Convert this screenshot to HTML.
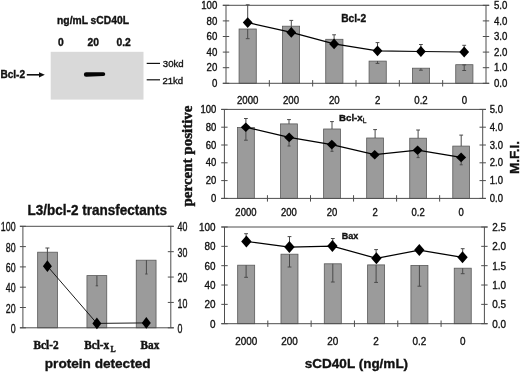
<!DOCTYPE html>
<html><head><meta charset="utf-8"><style>
html,body{margin:0;padding:0;background:#fff;}
body{width:520px;height:372px;overflow:hidden;}
svg{display:block;filter:blur(0.35px);}
text{stroke:#111;stroke-width:0.35px;paint-order:stroke;}
</style></head><body>
<svg width="520" height="372" viewBox="0 0 520 372">
<rect width="520" height="372" fill="#fff"/>
<rect x="239.07" y="29.00" width="17.2" height="54.30" fill="#9b9b9b" stroke="#5a5a5a" stroke-width="0.8"/>
<rect x="282.40" y="26.20" width="17.2" height="57.10" fill="#9b9b9b" stroke="#5a5a5a" stroke-width="0.8"/>
<rect x="325.73" y="39.30" width="17.2" height="44.00" fill="#9b9b9b" stroke="#5a5a5a" stroke-width="0.8"/>
<rect x="369.07" y="61.10" width="17.2" height="22.20" fill="#9b9b9b" stroke="#5a5a5a" stroke-width="0.8"/>
<rect x="412.40" y="68.20" width="17.2" height="15.10" fill="#9b9b9b" stroke="#5a5a5a" stroke-width="0.8"/>
<rect x="455.73" y="64.70" width="17.2" height="18.60" fill="#9b9b9b" stroke="#5a5a5a" stroke-width="0.8"/>
<line x1="222.80" y1="5.30" x2="489.20" y2="5.30" stroke="#4e4e4e" stroke-width="1"/>
<line x1="226.00" y1="5.30" x2="226.00" y2="83.30" stroke="#4e4e4e" stroke-width="1"/>
<line x1="486.00" y1="5.30" x2="486.00" y2="83.30" stroke="#4e4e4e" stroke-width="1"/>
<line x1="222.80" y1="83.30" x2="489.20" y2="83.30" stroke="#4e4e4e" stroke-width="1"/>
<line x1="222.80" y1="5.30" x2="229.20" y2="5.30" stroke="#4e4e4e" stroke-width="1"/>
<line x1="482.80" y1="5.30" x2="489.20" y2="5.30" stroke="#4e4e4e" stroke-width="1"/>
<line x1="222.80" y1="20.90" x2="229.20" y2="20.90" stroke="#4e4e4e" stroke-width="1"/>
<line x1="482.80" y1="20.90" x2="489.20" y2="20.90" stroke="#4e4e4e" stroke-width="1"/>
<line x1="222.80" y1="36.50" x2="229.20" y2="36.50" stroke="#4e4e4e" stroke-width="1"/>
<line x1="482.80" y1="36.50" x2="489.20" y2="36.50" stroke="#4e4e4e" stroke-width="1"/>
<line x1="222.80" y1="52.10" x2="229.20" y2="52.10" stroke="#4e4e4e" stroke-width="1"/>
<line x1="482.80" y1="52.10" x2="489.20" y2="52.10" stroke="#4e4e4e" stroke-width="1"/>
<line x1="222.80" y1="67.70" x2="229.20" y2="67.70" stroke="#4e4e4e" stroke-width="1"/>
<line x1="482.80" y1="67.70" x2="489.20" y2="67.70" stroke="#4e4e4e" stroke-width="1"/>
<line x1="222.80" y1="83.30" x2="229.20" y2="83.30" stroke="#4e4e4e" stroke-width="1"/>
<line x1="482.80" y1="83.30" x2="489.20" y2="83.30" stroke="#4e4e4e" stroke-width="1"/>
<line x1="269.33" y1="80.10" x2="269.33" y2="86.50" stroke="#4e4e4e" stroke-width="1"/>
<line x1="312.67" y1="80.10" x2="312.67" y2="86.50" stroke="#4e4e4e" stroke-width="1"/>
<line x1="356.00" y1="80.10" x2="356.00" y2="86.50" stroke="#4e4e4e" stroke-width="1"/>
<line x1="399.33" y1="80.10" x2="399.33" y2="86.50" stroke="#4e4e4e" stroke-width="1"/>
<line x1="442.67" y1="80.10" x2="442.67" y2="86.50" stroke="#4e4e4e" stroke-width="1"/>
<line x1="247.70" y1="29.00" x2="247.70" y2="38.70" stroke="#4a4a4a" stroke-width="1"/>
<line x1="245.80" y1="38.70" x2="249.60" y2="38.70" stroke="#4a4a4a" stroke-width="1"/>
<line x1="247.70" y1="22.60" x2="247.70" y2="4.80" stroke="#4a4a4a" stroke-width="1"/>
<line x1="245.80" y1="4.80" x2="249.60" y2="4.80" stroke="#4a4a4a" stroke-width="1"/>
<line x1="291.30" y1="32.40" x2="291.30" y2="20.40" stroke="#4a4a4a" stroke-width="1"/>
<line x1="289.40" y1="20.40" x2="293.20" y2="20.40" stroke="#4a4a4a" stroke-width="1"/>
<line x1="334.10" y1="43.90" x2="334.10" y2="34.80" stroke="#4a4a4a" stroke-width="1"/>
<line x1="332.20" y1="34.80" x2="336.00" y2="34.80" stroke="#4a4a4a" stroke-width="1"/>
<line x1="377.50" y1="61.10" x2="377.50" y2="63.40" stroke="#4a4a4a" stroke-width="1"/>
<line x1="375.60" y1="63.40" x2="379.40" y2="63.40" stroke="#4a4a4a" stroke-width="1"/>
<line x1="377.50" y1="50.80" x2="377.50" y2="42.60" stroke="#4a4a4a" stroke-width="1"/>
<line x1="375.60" y1="42.60" x2="379.40" y2="42.60" stroke="#4a4a4a" stroke-width="1"/>
<line x1="420.90" y1="68.20" x2="420.90" y2="70.20" stroke="#4a4a4a" stroke-width="1"/>
<line x1="419.00" y1="70.20" x2="422.80" y2="70.20" stroke="#4a4a4a" stroke-width="1"/>
<line x1="420.90" y1="51.50" x2="420.90" y2="44.50" stroke="#4a4a4a" stroke-width="1"/>
<line x1="419.00" y1="44.50" x2="422.80" y2="44.50" stroke="#4a4a4a" stroke-width="1"/>
<line x1="464.20" y1="64.90" x2="464.20" y2="70.50" stroke="#4a4a4a" stroke-width="1"/>
<line x1="462.30" y1="70.50" x2="466.10" y2="70.50" stroke="#4a4a4a" stroke-width="1"/>
<line x1="462.30" y1="64.90" x2="466.10" y2="64.90" stroke="#4a4a4a" stroke-width="1"/>
<line x1="464.20" y1="52.00" x2="464.20" y2="45.30" stroke="#4a4a4a" stroke-width="1"/>
<line x1="462.30" y1="45.30" x2="466.10" y2="45.30" stroke="#4a4a4a" stroke-width="1"/>
<polyline points="247.70,22.60 291.30,32.40 334.10,43.90 377.50,50.80 420.90,51.50 464.20,52.00" fill="none" stroke="#000" stroke-width="1.25"/>
<polygon points="247.70,17.20 252.60,22.60 247.70,28.00 242.80,22.60" fill="#000"/>
<polygon points="291.30,27.00 296.20,32.40 291.30,37.80 286.40,32.40" fill="#000"/>
<polygon points="334.10,38.50 339.00,43.90 334.10,49.30 329.20,43.90" fill="#000"/>
<polygon points="377.50,45.40 382.40,50.80 377.50,56.20 372.60,50.80" fill="#000"/>
<polygon points="420.90,46.10 425.80,51.50 420.90,56.90 416.00,51.50" fill="#000"/>
<polygon points="464.20,46.60 469.10,52.00 464.20,57.40 459.30,52.00" fill="#000"/>
<text transform="translate(217.30,9.08) scale(0.92,1)" x="0" y="0" font-family='"Liberation Sans", sans-serif' font-size="10.5" font-weight="normal" text-anchor="end" fill="#111" >100</text>
<text transform="translate(217.30,24.68) scale(0.92,1)" x="0" y="0" font-family='"Liberation Sans", sans-serif' font-size="10.5" font-weight="normal" text-anchor="end" fill="#111" >80</text>
<text transform="translate(217.30,40.28) scale(0.92,1)" x="0" y="0" font-family='"Liberation Sans", sans-serif' font-size="10.5" font-weight="normal" text-anchor="end" fill="#111" >60</text>
<text transform="translate(217.30,55.88) scale(0.92,1)" x="0" y="0" font-family='"Liberation Sans", sans-serif' font-size="10.5" font-weight="normal" text-anchor="end" fill="#111" >40</text>
<text transform="translate(217.30,71.48) scale(0.92,1)" x="0" y="0" font-family='"Liberation Sans", sans-serif' font-size="10.5" font-weight="normal" text-anchor="end" fill="#111" >20</text>
<text transform="translate(217.30,87.08) scale(0.92,1)" x="0" y="0" font-family='"Liberation Sans", sans-serif' font-size="10.5" font-weight="normal" text-anchor="end" fill="#111" >0</text>
<text transform="translate(494.00,9.08) scale(0.92,1)" x="0" y="0" font-family='"Liberation Sans", sans-serif' font-size="10.5" font-weight="normal" text-anchor="start" fill="#111" >5.0</text>
<text transform="translate(494.00,24.68) scale(0.92,1)" x="0" y="0" font-family='"Liberation Sans", sans-serif' font-size="10.5" font-weight="normal" text-anchor="start" fill="#111" >4.0</text>
<text transform="translate(494.00,40.28) scale(0.92,1)" x="0" y="0" font-family='"Liberation Sans", sans-serif' font-size="10.5" font-weight="normal" text-anchor="start" fill="#111" >3.0</text>
<text transform="translate(494.00,55.88) scale(0.92,1)" x="0" y="0" font-family='"Liberation Sans", sans-serif' font-size="10.5" font-weight="normal" text-anchor="start" fill="#111" >2.0</text>
<text transform="translate(494.00,71.48) scale(0.92,1)" x="0" y="0" font-family='"Liberation Sans", sans-serif' font-size="10.5" font-weight="normal" text-anchor="start" fill="#111" >1.0</text>
<text transform="translate(494.00,87.08) scale(0.92,1)" x="0" y="0" font-family='"Liberation Sans", sans-serif' font-size="10.5" font-weight="normal" text-anchor="start" fill="#111" >0.0</text>
<text transform="translate(247.67,104.00) scale(0.92,1)" x="0" y="0" font-family='"Liberation Sans", sans-serif' font-size="10.5" font-weight="normal" text-anchor="middle" fill="#111" >2000</text>
<text transform="translate(291.00,104.00) scale(0.92,1)" x="0" y="0" font-family='"Liberation Sans", sans-serif' font-size="10.5" font-weight="normal" text-anchor="middle" fill="#111" >200</text>
<text transform="translate(334.33,104.00) scale(0.92,1)" x="0" y="0" font-family='"Liberation Sans", sans-serif' font-size="10.5" font-weight="normal" text-anchor="middle" fill="#111" >20</text>
<text transform="translate(377.67,104.00) scale(0.92,1)" x="0" y="0" font-family='"Liberation Sans", sans-serif' font-size="10.5" font-weight="normal" text-anchor="middle" fill="#111" >2</text>
<text transform="translate(421.00,104.00) scale(0.92,1)" x="0" y="0" font-family='"Liberation Sans", sans-serif' font-size="10.5" font-weight="normal" text-anchor="middle" fill="#111" >0.2</text>
<text transform="translate(464.33,104.00) scale(0.92,1)" x="0" y="0" font-family='"Liberation Sans", sans-serif' font-size="10.5" font-weight="normal" text-anchor="middle" fill="#111" >0</text>
<text x="341.20" y="22.40" font-family='"Liberation Sans", sans-serif' font-size="10.2" font-weight="bold" text-anchor="start" fill="#111" >Bcl-2</text>
<rect x="237.53" y="127.50" width="16.8" height="70.90" fill="#9b9b9b" stroke="#5a5a5a" stroke-width="0.8"/>
<rect x="280.58" y="123.90" width="16.8" height="74.50" fill="#9b9b9b" stroke="#5a5a5a" stroke-width="0.8"/>
<rect x="323.62" y="129.00" width="16.8" height="69.40" fill="#9b9b9b" stroke="#5a5a5a" stroke-width="0.8"/>
<rect x="366.67" y="138.00" width="16.8" height="60.40" fill="#9b9b9b" stroke="#5a5a5a" stroke-width="0.8"/>
<rect x="409.73" y="138.20" width="16.8" height="60.20" fill="#9b9b9b" stroke="#5a5a5a" stroke-width="0.8"/>
<rect x="452.77" y="146.10" width="16.8" height="52.30" fill="#9b9b9b" stroke="#5a5a5a" stroke-width="0.8"/>
<line x1="221.20" y1="109.40" x2="485.90" y2="109.40" stroke="#4e4e4e" stroke-width="1"/>
<line x1="224.40" y1="109.40" x2="224.40" y2="198.40" stroke="#4e4e4e" stroke-width="1"/>
<line x1="482.70" y1="109.40" x2="482.70" y2="198.40" stroke="#4e4e4e" stroke-width="1"/>
<line x1="221.20" y1="198.40" x2="485.90" y2="198.40" stroke="#4e4e4e" stroke-width="1"/>
<line x1="221.20" y1="109.40" x2="227.60" y2="109.40" stroke="#4e4e4e" stroke-width="1"/>
<line x1="479.50" y1="109.40" x2="485.90" y2="109.40" stroke="#4e4e4e" stroke-width="1"/>
<line x1="221.20" y1="127.20" x2="227.60" y2="127.20" stroke="#4e4e4e" stroke-width="1"/>
<line x1="479.50" y1="127.20" x2="485.90" y2="127.20" stroke="#4e4e4e" stroke-width="1"/>
<line x1="221.20" y1="145.00" x2="227.60" y2="145.00" stroke="#4e4e4e" stroke-width="1"/>
<line x1="479.50" y1="145.00" x2="485.90" y2="145.00" stroke="#4e4e4e" stroke-width="1"/>
<line x1="221.20" y1="162.80" x2="227.60" y2="162.80" stroke="#4e4e4e" stroke-width="1"/>
<line x1="479.50" y1="162.80" x2="485.90" y2="162.80" stroke="#4e4e4e" stroke-width="1"/>
<line x1="221.20" y1="180.60" x2="227.60" y2="180.60" stroke="#4e4e4e" stroke-width="1"/>
<line x1="479.50" y1="180.60" x2="485.90" y2="180.60" stroke="#4e4e4e" stroke-width="1"/>
<line x1="221.20" y1="198.40" x2="227.60" y2="198.40" stroke="#4e4e4e" stroke-width="1"/>
<line x1="479.50" y1="198.40" x2="485.90" y2="198.40" stroke="#4e4e4e" stroke-width="1"/>
<line x1="267.45" y1="195.20" x2="267.45" y2="201.60" stroke="#4e4e4e" stroke-width="1"/>
<line x1="310.50" y1="195.20" x2="310.50" y2="201.60" stroke="#4e4e4e" stroke-width="1"/>
<line x1="353.55" y1="195.20" x2="353.55" y2="201.60" stroke="#4e4e4e" stroke-width="1"/>
<line x1="396.60" y1="195.20" x2="396.60" y2="201.60" stroke="#4e4e4e" stroke-width="1"/>
<line x1="439.65" y1="195.20" x2="439.65" y2="201.60" stroke="#4e4e4e" stroke-width="1"/>
<line x1="245.90" y1="127.50" x2="245.90" y2="140.20" stroke="#4a4a4a" stroke-width="1"/>
<line x1="244.00" y1="140.20" x2="247.80" y2="140.20" stroke="#4a4a4a" stroke-width="1"/>
<line x1="245.90" y1="127.20" x2="245.90" y2="118.50" stroke="#4a4a4a" stroke-width="1"/>
<line x1="244.00" y1="118.50" x2="247.80" y2="118.50" stroke="#4a4a4a" stroke-width="1"/>
<line x1="289.00" y1="123.90" x2="289.00" y2="119.60" stroke="#4a4a4a" stroke-width="1"/>
<line x1="287.10" y1="119.60" x2="290.90" y2="119.60" stroke="#4a4a4a" stroke-width="1"/>
<line x1="289.00" y1="141.50" x2="289.00" y2="146.00" stroke="#4a4a4a" stroke-width="1"/>
<line x1="287.50" y1="146.00" x2="290.50" y2="146.00" stroke="#4a4a4a" stroke-width="1"/>
<line x1="332.00" y1="129.00" x2="332.00" y2="121.60" stroke="#4a4a4a" stroke-width="1"/>
<line x1="330.10" y1="121.60" x2="333.90" y2="121.60" stroke="#4a4a4a" stroke-width="1"/>
<line x1="332.00" y1="148.80" x2="332.00" y2="151.30" stroke="#4a4a4a" stroke-width="1"/>
<line x1="330.50" y1="151.30" x2="333.50" y2="151.30" stroke="#4a4a4a" stroke-width="1"/>
<line x1="375.10" y1="138.00" x2="375.10" y2="129.60" stroke="#4a4a4a" stroke-width="1"/>
<line x1="373.20" y1="129.60" x2="377.00" y2="129.60" stroke="#4a4a4a" stroke-width="1"/>
<line x1="418.10" y1="138.20" x2="418.10" y2="130.00" stroke="#4a4a4a" stroke-width="1"/>
<line x1="416.20" y1="130.00" x2="420.00" y2="130.00" stroke="#4a4a4a" stroke-width="1"/>
<line x1="418.10" y1="154.50" x2="418.10" y2="157.60" stroke="#4a4a4a" stroke-width="1"/>
<line x1="416.60" y1="157.60" x2="419.60" y2="157.60" stroke="#4a4a4a" stroke-width="1"/>
<line x1="461.20" y1="146.10" x2="461.20" y2="135.10" stroke="#4a4a4a" stroke-width="1"/>
<line x1="459.30" y1="135.10" x2="463.10" y2="135.10" stroke="#4a4a4a" stroke-width="1"/>
<line x1="461.20" y1="161.50" x2="461.20" y2="164.80" stroke="#4a4a4a" stroke-width="1"/>
<line x1="459.70" y1="164.80" x2="462.70" y2="164.80" stroke="#4a4a4a" stroke-width="1"/>
<polyline points="245.80,127.20 289.20,137.40 331.80,144.60 374.70,154.70 417.60,150.20 461.10,157.40" fill="none" stroke="#000" stroke-width="1.25"/>
<polygon points="245.80,122.40 250.80,127.20 245.80,132.00 240.80,127.20" fill="#000"/>
<polygon points="289.20,132.60 294.20,137.40 289.20,142.20 284.20,137.40" fill="#000"/>
<polygon points="331.80,139.80 336.80,144.60 331.80,149.40 326.80,144.60" fill="#000"/>
<polygon points="374.70,149.90 379.70,154.70 374.70,159.50 369.70,154.70" fill="#000"/>
<polygon points="417.60,145.40 422.60,150.20 417.60,155.00 412.60,150.20" fill="#000"/>
<polygon points="461.10,152.60 466.10,157.40 461.10,162.20 456.10,157.40" fill="#000"/>
<text transform="translate(216.30,113.00) scale(0.95,1)" x="0" y="0" font-family='"Liberation Sans", sans-serif' font-size="10.0" font-weight="normal" text-anchor="end" fill="#111" >100</text>
<text transform="translate(216.30,130.80) scale(0.95,1)" x="0" y="0" font-family='"Liberation Sans", sans-serif' font-size="10.0" font-weight="normal" text-anchor="end" fill="#111" >80</text>
<text transform="translate(216.30,148.60) scale(0.95,1)" x="0" y="0" font-family='"Liberation Sans", sans-serif' font-size="10.0" font-weight="normal" text-anchor="end" fill="#111" >60</text>
<text transform="translate(216.30,166.40) scale(0.95,1)" x="0" y="0" font-family='"Liberation Sans", sans-serif' font-size="10.0" font-weight="normal" text-anchor="end" fill="#111" >40</text>
<text transform="translate(216.30,184.20) scale(0.95,1)" x="0" y="0" font-family='"Liberation Sans", sans-serif' font-size="10.0" font-weight="normal" text-anchor="end" fill="#111" >20</text>
<text transform="translate(216.30,202.00) scale(0.95,1)" x="0" y="0" font-family='"Liberation Sans", sans-serif' font-size="10.0" font-weight="normal" text-anchor="end" fill="#111" >0</text>
<text transform="translate(489.80,113.00) scale(0.95,1)" x="0" y="0" font-family='"Liberation Sans", sans-serif' font-size="10.0" font-weight="normal" text-anchor="start" fill="#111" >5.0</text>
<text transform="translate(489.80,130.80) scale(0.95,1)" x="0" y="0" font-family='"Liberation Sans", sans-serif' font-size="10.0" font-weight="normal" text-anchor="start" fill="#111" >4.0</text>
<text transform="translate(489.80,148.60) scale(0.95,1)" x="0" y="0" font-family='"Liberation Sans", sans-serif' font-size="10.0" font-weight="normal" text-anchor="start" fill="#111" >3.0</text>
<text transform="translate(489.80,166.40) scale(0.95,1)" x="0" y="0" font-family='"Liberation Sans", sans-serif' font-size="10.0" font-weight="normal" text-anchor="start" fill="#111" >2.0</text>
<text transform="translate(489.80,184.20) scale(0.95,1)" x="0" y="0" font-family='"Liberation Sans", sans-serif' font-size="10.0" font-weight="normal" text-anchor="start" fill="#111" >1.0</text>
<text transform="translate(489.80,202.00) scale(0.95,1)" x="0" y="0" font-family='"Liberation Sans", sans-serif' font-size="10.0" font-weight="normal" text-anchor="start" fill="#111" >0.0</text>
<text transform="translate(245.93,216.20) scale(0.95,1)" x="0" y="0" font-family='"Liberation Sans", sans-serif' font-size="10.0" font-weight="normal" text-anchor="middle" fill="#111" >2000</text>
<text transform="translate(288.98,216.20) scale(0.95,1)" x="0" y="0" font-family='"Liberation Sans", sans-serif' font-size="10.0" font-weight="normal" text-anchor="middle" fill="#111" >200</text>
<text transform="translate(332.02,216.20) scale(0.95,1)" x="0" y="0" font-family='"Liberation Sans", sans-serif' font-size="10.0" font-weight="normal" text-anchor="middle" fill="#111" >20</text>
<text transform="translate(375.07,216.20) scale(0.95,1)" x="0" y="0" font-family='"Liberation Sans", sans-serif' font-size="10.0" font-weight="normal" text-anchor="middle" fill="#111" >2</text>
<text transform="translate(418.12,216.20) scale(0.95,1)" x="0" y="0" font-family='"Liberation Sans", sans-serif' font-size="10.0" font-weight="normal" text-anchor="middle" fill="#111" >0.2</text>
<text transform="translate(461.17,216.20) scale(0.95,1)" x="0" y="0" font-family='"Liberation Sans", sans-serif' font-size="10.0" font-weight="normal" text-anchor="middle" fill="#111" >0</text>
<text x="339.00" y="120.80" font-family='"Liberation Sans", sans-serif' font-size="9.7" font-weight="bold" text-anchor="start" fill="#111" >Bcl-x</text>
<text x="362.70" y="122.60" font-family='"Liberation Sans", sans-serif' font-size="6.6" font-weight="normal" text-anchor="start" fill="#111"  style="stroke-width:0.35px">L</text>
<rect x="237.66" y="265.20" width="17.0" height="58.50" fill="#9b9b9b" stroke="#5a5a5a" stroke-width="0.8"/>
<rect x="280.98" y="254.20" width="17.0" height="69.50" fill="#9b9b9b" stroke="#5a5a5a" stroke-width="0.8"/>
<rect x="324.29" y="263.80" width="17.0" height="59.90" fill="#9b9b9b" stroke="#5a5a5a" stroke-width="0.8"/>
<rect x="367.61" y="264.90" width="17.0" height="58.80" fill="#9b9b9b" stroke="#5a5a5a" stroke-width="0.8"/>
<rect x="410.92" y="265.40" width="17.0" height="58.30" fill="#9b9b9b" stroke="#5a5a5a" stroke-width="0.8"/>
<rect x="454.24" y="268.20" width="17.0" height="55.50" fill="#9b9b9b" stroke="#5a5a5a" stroke-width="0.8"/>
<line x1="221.30" y1="227.00" x2="487.60" y2="227.00" stroke="#4e4e4e" stroke-width="1"/>
<line x1="224.50" y1="227.00" x2="224.50" y2="323.70" stroke="#4e4e4e" stroke-width="1"/>
<line x1="484.40" y1="227.00" x2="484.40" y2="323.70" stroke="#4e4e4e" stroke-width="1"/>
<line x1="221.30" y1="323.70" x2="487.60" y2="323.70" stroke="#4e4e4e" stroke-width="1"/>
<line x1="221.30" y1="227.00" x2="227.70" y2="227.00" stroke="#4e4e4e" stroke-width="1"/>
<line x1="481.20" y1="227.00" x2="487.60" y2="227.00" stroke="#4e4e4e" stroke-width="1"/>
<line x1="221.30" y1="246.34" x2="227.70" y2="246.34" stroke="#4e4e4e" stroke-width="1"/>
<line x1="481.20" y1="246.34" x2="487.60" y2="246.34" stroke="#4e4e4e" stroke-width="1"/>
<line x1="221.30" y1="265.68" x2="227.70" y2="265.68" stroke="#4e4e4e" stroke-width="1"/>
<line x1="481.20" y1="265.68" x2="487.60" y2="265.68" stroke="#4e4e4e" stroke-width="1"/>
<line x1="221.30" y1="285.02" x2="227.70" y2="285.02" stroke="#4e4e4e" stroke-width="1"/>
<line x1="481.20" y1="285.02" x2="487.60" y2="285.02" stroke="#4e4e4e" stroke-width="1"/>
<line x1="221.30" y1="304.36" x2="227.70" y2="304.36" stroke="#4e4e4e" stroke-width="1"/>
<line x1="481.20" y1="304.36" x2="487.60" y2="304.36" stroke="#4e4e4e" stroke-width="1"/>
<line x1="221.30" y1="323.70" x2="227.70" y2="323.70" stroke="#4e4e4e" stroke-width="1"/>
<line x1="481.20" y1="323.70" x2="487.60" y2="323.70" stroke="#4e4e4e" stroke-width="1"/>
<line x1="267.82" y1="320.50" x2="267.82" y2="326.90" stroke="#4e4e4e" stroke-width="1"/>
<line x1="311.13" y1="320.50" x2="311.13" y2="326.90" stroke="#4e4e4e" stroke-width="1"/>
<line x1="354.45" y1="320.50" x2="354.45" y2="326.90" stroke="#4e4e4e" stroke-width="1"/>
<line x1="397.77" y1="320.50" x2="397.77" y2="326.90" stroke="#4e4e4e" stroke-width="1"/>
<line x1="441.08" y1="320.50" x2="441.08" y2="326.90" stroke="#4e4e4e" stroke-width="1"/>
<line x1="246.10" y1="265.20" x2="246.10" y2="277.30" stroke="#4a4a4a" stroke-width="1"/>
<line x1="244.20" y1="277.30" x2="248.00" y2="277.30" stroke="#4a4a4a" stroke-width="1"/>
<line x1="246.10" y1="241.50" x2="246.10" y2="233.70" stroke="#4a4a4a" stroke-width="1"/>
<line x1="244.20" y1="233.70" x2="248.00" y2="233.70" stroke="#4a4a4a" stroke-width="1"/>
<line x1="289.50" y1="254.20" x2="289.50" y2="267.00" stroke="#4a4a4a" stroke-width="1"/>
<line x1="287.60" y1="267.00" x2="291.40" y2="267.00" stroke="#4a4a4a" stroke-width="1"/>
<line x1="289.50" y1="247.00" x2="289.50" y2="236.60" stroke="#4a4a4a" stroke-width="1"/>
<line x1="287.60" y1="236.60" x2="291.40" y2="236.60" stroke="#4a4a4a" stroke-width="1"/>
<line x1="332.80" y1="263.80" x2="332.80" y2="282.00" stroke="#4a4a4a" stroke-width="1"/>
<line x1="330.90" y1="282.00" x2="334.70" y2="282.00" stroke="#4a4a4a" stroke-width="1"/>
<line x1="332.80" y1="246.10" x2="332.80" y2="238.50" stroke="#4a4a4a" stroke-width="1"/>
<line x1="330.90" y1="238.50" x2="334.70" y2="238.50" stroke="#4a4a4a" stroke-width="1"/>
<line x1="376.10" y1="264.90" x2="376.10" y2="282.40" stroke="#4a4a4a" stroke-width="1"/>
<line x1="374.20" y1="282.40" x2="378.00" y2="282.40" stroke="#4a4a4a" stroke-width="1"/>
<line x1="376.10" y1="258.30" x2="376.10" y2="249.60" stroke="#4a4a4a" stroke-width="1"/>
<line x1="374.20" y1="249.60" x2="378.00" y2="249.60" stroke="#4a4a4a" stroke-width="1"/>
<line x1="419.40" y1="265.40" x2="419.40" y2="286.20" stroke="#4a4a4a" stroke-width="1"/>
<line x1="417.50" y1="286.20" x2="421.30" y2="286.20" stroke="#4a4a4a" stroke-width="1"/>
<line x1="462.70" y1="268.20" x2="462.70" y2="273.70" stroke="#4a4a4a" stroke-width="1"/>
<line x1="460.80" y1="273.70" x2="464.60" y2="273.70" stroke="#4a4a4a" stroke-width="1"/>
<line x1="462.70" y1="257.30" x2="462.70" y2="248.70" stroke="#4a4a4a" stroke-width="1"/>
<line x1="460.80" y1="248.70" x2="464.60" y2="248.70" stroke="#4a4a4a" stroke-width="1"/>
<polyline points="246.40,241.50 289.40,247.00 332.40,246.10 376.40,258.30 419.30,250.10 462.50,257.30" fill="none" stroke="#000" stroke-width="1.25"/>
<polygon points="246.40,235.50 251.60,241.50 246.40,247.50 241.20,241.50" fill="#000"/>
<polygon points="289.40,241.00 294.60,247.00 289.40,253.00 284.20,247.00" fill="#000"/>
<polygon points="332.40,240.10 337.60,246.10 332.40,252.10 327.20,246.10" fill="#000"/>
<polygon points="376.40,252.30 381.60,258.30 376.40,264.30 371.20,258.30" fill="#000"/>
<polygon points="419.30,244.10 424.50,250.10 419.30,256.10 414.10,250.10" fill="#000"/>
<polygon points="462.50,251.30 467.70,257.30 462.50,263.30 457.30,257.30" fill="#000"/>
<text transform="translate(215.50,230.89) scale(0.92,1)" x="0" y="0" font-family='"Liberation Sans", sans-serif' font-size="10.8" font-weight="normal" text-anchor="end" fill="#111" >100</text>
<text transform="translate(215.50,250.23) scale(0.92,1)" x="0" y="0" font-family='"Liberation Sans", sans-serif' font-size="10.8" font-weight="normal" text-anchor="end" fill="#111" >80</text>
<text transform="translate(215.50,269.57) scale(0.92,1)" x="0" y="0" font-family='"Liberation Sans", sans-serif' font-size="10.8" font-weight="normal" text-anchor="end" fill="#111" >60</text>
<text transform="translate(215.50,288.91) scale(0.92,1)" x="0" y="0" font-family='"Liberation Sans", sans-serif' font-size="10.8" font-weight="normal" text-anchor="end" fill="#111" >40</text>
<text transform="translate(215.50,308.25) scale(0.92,1)" x="0" y="0" font-family='"Liberation Sans", sans-serif' font-size="10.8" font-weight="normal" text-anchor="end" fill="#111" >20</text>
<text transform="translate(215.50,327.59) scale(0.92,1)" x="0" y="0" font-family='"Liberation Sans", sans-serif' font-size="10.8" font-weight="normal" text-anchor="end" fill="#111" >0</text>
<text transform="translate(492.30,230.89) scale(0.92,1)" x="0" y="0" font-family='"Liberation Sans", sans-serif' font-size="10.8" font-weight="normal" text-anchor="start" fill="#111" >2.5</text>
<text transform="translate(492.30,250.23) scale(0.92,1)" x="0" y="0" font-family='"Liberation Sans", sans-serif' font-size="10.8" font-weight="normal" text-anchor="start" fill="#111" >2.0</text>
<text transform="translate(492.30,269.57) scale(0.92,1)" x="0" y="0" font-family='"Liberation Sans", sans-serif' font-size="10.8" font-weight="normal" text-anchor="start" fill="#111" >1.5</text>
<text transform="translate(492.30,288.91) scale(0.92,1)" x="0" y="0" font-family='"Liberation Sans", sans-serif' font-size="10.8" font-weight="normal" text-anchor="start" fill="#111" >1.0</text>
<text transform="translate(492.30,308.25) scale(0.92,1)" x="0" y="0" font-family='"Liberation Sans", sans-serif' font-size="10.8" font-weight="normal" text-anchor="start" fill="#111" >0.5</text>
<text transform="translate(492.30,327.59) scale(0.92,1)" x="0" y="0" font-family='"Liberation Sans", sans-serif' font-size="10.8" font-weight="normal" text-anchor="start" fill="#111" >0.0</text>
<text transform="translate(246.16,345.00) scale(0.92,1)" x="0" y="0" font-family='"Liberation Sans", sans-serif' font-size="10.8" font-weight="normal" text-anchor="middle" fill="#111" >2000</text>
<text transform="translate(289.48,345.00) scale(0.92,1)" x="0" y="0" font-family='"Liberation Sans", sans-serif' font-size="10.8" font-weight="normal" text-anchor="middle" fill="#111" >200</text>
<text transform="translate(332.79,345.00) scale(0.92,1)" x="0" y="0" font-family='"Liberation Sans", sans-serif' font-size="10.8" font-weight="normal" text-anchor="middle" fill="#111" >20</text>
<text transform="translate(376.11,345.00) scale(0.92,1)" x="0" y="0" font-family='"Liberation Sans", sans-serif' font-size="10.8" font-weight="normal" text-anchor="middle" fill="#111" >2</text>
<text transform="translate(419.42,345.00) scale(0.92,1)" x="0" y="0" font-family='"Liberation Sans", sans-serif' font-size="10.8" font-weight="normal" text-anchor="middle" fill="#111" >0.2</text>
<text transform="translate(462.74,345.00) scale(0.92,1)" x="0" y="0" font-family='"Liberation Sans", sans-serif' font-size="10.8" font-weight="normal" text-anchor="middle" fill="#111" >0</text>
<text x="341.80" y="239.40" font-family='"Liberation Sans", sans-serif' font-size="9.0" font-weight="bold" text-anchor="start" fill="#111" >Bax</text>
<rect x="37.65" y="252.20" width="19.8" height="75.60" fill="#9b9b9b" stroke="#5a5a5a" stroke-width="0.8"/>
<rect x="86.95" y="275.60" width="19.8" height="52.20" fill="#9b9b9b" stroke="#5a5a5a" stroke-width="0.8"/>
<rect x="136.25" y="260.20" width="19.8" height="67.60" fill="#9b9b9b" stroke="#5a5a5a" stroke-width="0.8"/>
<line x1="19.90" y1="226.30" x2="173.80" y2="226.30" stroke="#4e4e4e" stroke-width="1"/>
<line x1="22.90" y1="226.30" x2="22.90" y2="327.80" stroke="#4e4e4e" stroke-width="1"/>
<line x1="170.80" y1="226.30" x2="170.80" y2="327.80" stroke="#4e4e4e" stroke-width="1"/>
<line x1="19.90" y1="327.80" x2="173.80" y2="327.80" stroke="#4e4e4e" stroke-width="1"/>
<line x1="19.90" y1="226.30" x2="25.90" y2="226.30" stroke="#4e4e4e" stroke-width="1"/>
<line x1="19.90" y1="246.60" x2="25.90" y2="246.60" stroke="#4e4e4e" stroke-width="1"/>
<line x1="19.90" y1="266.90" x2="25.90" y2="266.90" stroke="#4e4e4e" stroke-width="1"/>
<line x1="19.90" y1="287.20" x2="25.90" y2="287.20" stroke="#4e4e4e" stroke-width="1"/>
<line x1="19.90" y1="307.50" x2="25.90" y2="307.50" stroke="#4e4e4e" stroke-width="1"/>
<line x1="19.90" y1="327.80" x2="25.90" y2="327.80" stroke="#4e4e4e" stroke-width="1"/>
<line x1="167.80" y1="226.30" x2="173.80" y2="226.30" stroke="#4e4e4e" stroke-width="1"/>
<line x1="167.80" y1="251.68" x2="173.80" y2="251.68" stroke="#4e4e4e" stroke-width="1"/>
<line x1="167.80" y1="277.05" x2="173.80" y2="277.05" stroke="#4e4e4e" stroke-width="1"/>
<line x1="167.80" y1="302.43" x2="173.80" y2="302.43" stroke="#4e4e4e" stroke-width="1"/>
<line x1="167.80" y1="327.80" x2="173.80" y2="327.80" stroke="#4e4e4e" stroke-width="1"/>
<line x1="47.40" y1="266.20" x2="47.40" y2="248.00" stroke="#4a4a4a" stroke-width="1"/>
<line x1="45.40" y1="248.00" x2="49.40" y2="248.00" stroke="#4a4a4a" stroke-width="1"/>
<line x1="96.90" y1="275.80" x2="96.90" y2="285.80" stroke="#4a4a4a" stroke-width="1"/>
<line x1="95.70" y1="285.80" x2="98.10" y2="285.80" stroke="#4a4a4a" stroke-width="1"/>
<line x1="146.40" y1="260.20" x2="146.40" y2="274.00" stroke="#4a4a4a" stroke-width="1"/>
<line x1="145.20" y1="274.00" x2="147.60" y2="274.00" stroke="#4a4a4a" stroke-width="1"/>
<polyline points="47.40,266.20 96.90,323.40 146.30,322.90" fill="none" stroke="#111" stroke-width="0.95"/>
<polygon points="47.40,260.30 51.90,266.20 47.40,272.10 42.90,266.20" fill="#000"/>
<polygon points="96.90,317.50 101.40,323.40 96.90,329.30 92.40,323.40" fill="#000"/>
<polygon points="146.30,317.00 150.80,322.90 146.30,328.80 141.80,322.90" fill="#000"/>
<text transform="translate(15.60,231.40) scale(0.72,1)" x="0" y="0" font-family='"Liberation Sans", sans-serif' font-size="12.3" font-weight="normal" text-anchor="end" fill="#111" >100</text>
<text transform="translate(15.60,251.70) scale(0.72,1)" x="0" y="0" font-family='"Liberation Sans", sans-serif' font-size="12.3" font-weight="normal" text-anchor="end" fill="#111" >80</text>
<text transform="translate(15.60,272.00) scale(0.72,1)" x="0" y="0" font-family='"Liberation Sans", sans-serif' font-size="12.3" font-weight="normal" text-anchor="end" fill="#111" >60</text>
<text transform="translate(15.60,292.30) scale(0.72,1)" x="0" y="0" font-family='"Liberation Sans", sans-serif' font-size="12.3" font-weight="normal" text-anchor="end" fill="#111" >40</text>
<text transform="translate(15.60,312.60) scale(0.72,1)" x="0" y="0" font-family='"Liberation Sans", sans-serif' font-size="12.3" font-weight="normal" text-anchor="end" fill="#111" >20</text>
<text transform="translate(15.60,332.90) scale(0.72,1)" x="0" y="0" font-family='"Liberation Sans", sans-serif' font-size="12.3" font-weight="normal" text-anchor="end" fill="#111" >0</text>
<text transform="translate(177.60,231.40) scale(0.72,1)" x="0" y="0" font-family='"Liberation Sans", sans-serif' font-size="12.3" font-weight="normal" text-anchor="start" fill="#111" >40</text>
<text transform="translate(177.60,256.78) scale(0.72,1)" x="0" y="0" font-family='"Liberation Sans", sans-serif' font-size="12.3" font-weight="normal" text-anchor="start" fill="#111" >30</text>
<text transform="translate(177.60,282.15) scale(0.72,1)" x="0" y="0" font-family='"Liberation Sans", sans-serif' font-size="12.3" font-weight="normal" text-anchor="start" fill="#111" >20</text>
<text transform="translate(177.60,307.53) scale(0.72,1)" x="0" y="0" font-family='"Liberation Sans", sans-serif' font-size="12.3" font-weight="normal" text-anchor="start" fill="#111" >10</text>
<text transform="translate(177.60,332.90) scale(0.72,1)" x="0" y="0" font-family='"Liberation Sans", sans-serif' font-size="12.3" font-weight="normal" text-anchor="start" fill="#111" >0</text>
<text transform="translate(46.00,349.20) scale(0.88,1)" x="0" y="0" font-family='"Liberation Serif", serif' font-size="12.8" font-weight="bold" text-anchor="middle" fill="#111"  style="stroke-width:0.45px">Bcl-2</text>
<text transform="translate(84.20,349.20) scale(0.88,1)" x="0" y="0" font-family='"Liberation Serif", serif' font-size="12.8" font-weight="bold" text-anchor="start" fill="#111"  style="stroke-width:0.45px">Bcl-x</text>
<text transform="translate(110.60,351.60) scale(0.9,1)" x="0" y="0" font-family='"Liberation Serif", serif' font-size="8.6" font-weight="bold" text-anchor="start" fill="#111"  style="stroke-width:0.4px">L</text>
<text transform="translate(150.00,349.20) scale(0.88,1)" x="0" y="0" font-family='"Liberation Serif", serif' font-size="12.8" font-weight="bold" text-anchor="middle" fill="#111"  style="stroke-width:0.45px">Bax</text>
<text transform="translate(97.30,215.30) scale(0.964,1)" x="0" y="0" font-family='"Liberation Sans", sans-serif' font-size="14.0" font-weight="bold" text-anchor="middle" fill="#111" >L3/bcl-2 transfectants</text>
<text x="97.70" y="367.70" font-family='"Liberation Sans", sans-serif' font-size="13.6" font-weight="bold" text-anchor="middle" fill="#111" >protein detected</text>
<text x="356.50" y="367.60" font-family='"Liberation Sans", sans-serif' font-size="13.5" font-weight="bold" text-anchor="middle" fill="#111" >sCD40L (ng/mL)</text>
<text transform="translate(192.0,156.0) rotate(-90)" font-family='"Liberation Serif", serif' font-size="15" font-weight="bold" text-anchor="middle" fill="#111" style="stroke-width:0.45px">percent positive</text>
<text transform="translate(518.7,157.5) rotate(-90) scale(1.06,1)" font-family='"Liberation Sans", sans-serif' font-size="12.8" font-weight="bold" text-anchor="middle" fill="#111">M.F.I.</text>
<text x="93.00" y="23.50" font-family='"Liberation Sans", sans-serif' font-size="10.3" font-weight="bold" text-anchor="middle" fill="#111" >ng/mL sCD40L</text>
<text x="60.80" y="45.80" font-family='"Liberation Sans", sans-serif' font-size="10.3" font-weight="bold" text-anchor="middle" fill="#111" >0</text>
<text x="93.30" y="45.80" font-family='"Liberation Sans", sans-serif' font-size="10.3" font-weight="bold" text-anchor="middle" fill="#111" >20</text>
<text x="123.70" y="45.80" font-family='"Liberation Sans", sans-serif' font-size="10.3" font-weight="bold" text-anchor="middle" fill="#111" >0.2</text>
<rect x="50.7" y="51.8" width="92.8" height="47.8" fill="#d9d9d9"/>
<path d="M86.1,72.35 L103.4,72.25 A1.85,1.85 0 0 1 103.4,75.95 L86.1,76.85 A2.25,2.25 0 0 1 86.1,72.35 Z" fill="#050505"/>
<line x1="146.70" y1="63.40" x2="160.00" y2="63.40" stroke="#111" stroke-width="1.2"/>
<line x1="146.70" y1="79.80" x2="160.00" y2="79.80" stroke="#111" stroke-width="1.2"/>
<text x="162.80" y="67.20" font-family='"Liberation Sans", sans-serif' font-size="9.6" font-weight="normal" text-anchor="start" fill="#111" >30kd</text>
<text x="162.40" y="83.60" font-family='"Liberation Sans", sans-serif' font-size="9.6" font-weight="normal" text-anchor="start" fill="#111" >21kd</text>
<text x="0.40" y="78.00" font-family='"Liberation Sans", sans-serif' font-size="10.1" font-weight="bold" text-anchor="start" fill="#111" >Bcl-2</text>
<line x1="26.80" y1="74.80" x2="40.50" y2="74.80" stroke="#111" stroke-width="1.6"/>
<polygon points="39.0,72.2 44.8,74.8 39.0,77.4" fill="#111"/>
</svg>
</body></html>
